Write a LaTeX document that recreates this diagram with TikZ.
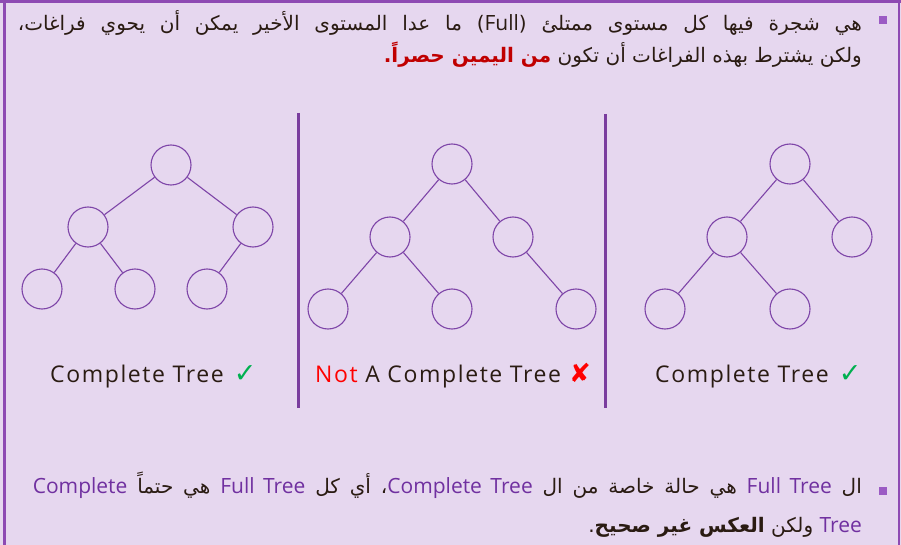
\documentclass[tikz,border=0pt]{standalone}
\usepackage{fontspec}
\setmainfont{Open Sans}
\newfontfamily\lblfont[LetterSpace=7]{Open Sans}
\newfontfamily\arabicfont[Script=Arabic]{DejaVu Sans}
\newfontfamily\arredbold[Script=Arabic,Color=C00000]{DejaVu Sans Bold}
\newfontfamily\symfont{DejaVu Sans}
\TeXXeTstate=1
\definecolor{bgc}{HTML}{E6D7EF}
\definecolor{framec}{HTML}{8E4AB3}
\definecolor{treec}{HTML}{7E45A8}
\definecolor{divc}{HTML}{7A3C9E}
\definecolor{bulc}{HTML}{9B5BC4}
\definecolor{txtc}{HTML}{2A1B12}
\definecolor{purc}{HTML}{7030A0}
\definecolor{okc}{HTML}{00B050}
\definecolor{badc}{HTML}{FF0000}
\newcommand{\lat}[1]{\beginL{\rmfamily\fontsize{21}{24}\selectfont #1}\endL}
\newcommand{\platin}[1]{\beginL{\rmfamily\fontsize{21}{24}\selectfont\color{purc}#1}\endL}
\tikzset{
  tn/.style={circle,draw=treec,line width=1.1pt,minimum size=40pt,inner sep=0pt},
  te/.style={draw=treec,line width=1.1pt},
  divline/.style={draw=divc,line width=3pt},
  lbl/.style={anchor=base west,inner sep=0pt,text=txtc,font=\fontsize{23}{26}\selectfont\lblfont},
  artext/.style={anchor=base east,inner sep=0pt,text=txtc,font=\fontsize{20}{24}\selectfont\arabicfont},
  bullet/.style={fill=bulc,minimum size=8pt,inner sep=0pt,draw=none}
}
\begin{document}
\begin{tikzpicture}[x=1pt,y=-1pt]
\useasboundingbox (0,0) rectangle (901,545);
\fill[bgc] (0,0) rectangle (901,545);
\fill[framec] (0,0) rectangle (901,3);
\fill[framec] (3,0) rectangle (6,545);
\fill[framec] (898,0) rectangle (899.5,545);

% bullets
\node[bullet] (b1) at (883,20) {};
\node[bullet] (b2) at (883,491) {};

% top text
\node[artext] (t1) at (862,31) {\hbox to 844pt{\beginR هي شجرة فيها كل مستوى ممتلئ (\lat{Full}) ما عدا المستوى الأخير يمكن أن يحوي فراغات،\endR}};
\node[artext] (t2) at (862,63) {\beginR ولكن يشترط بهذه الفراغات أن تكون {\arredbold من اليمين حصراً.}\endR};

% dividers
\coordinate (d1a) at (298,113); \coordinate (d1b) at (298,408);
\coordinate (d2a) at (605,114); \coordinate (d2b) at (605,408);
\draw[divline] (d1a) -- (d1b);
\draw[divline] (d2a) -- (d2b);

% tree 1
\node[tn] (a1) at (171,165) {};
\node[tn] (a2) at (88,227) {};
\node[tn] (a3) at (253,227) {};
\node[tn] (a4) at (42,289) {};
\node[tn] (a5) at (135,289) {};
\node[tn] (a6) at (207,289) {};
\draw[te] (a1) -- (a2); \draw[te] (a1) -- (a3);
\draw[te] (a2) -- (a4); \draw[te] (a2) -- (a5);
\draw[te] (a3) -- (a6);

% tree 2
\node[tn] (m1) at (452,164) {};
\node[tn] (m2) at (390,237) {};
\node[tn] (m3) at (513,237) {};
\node[tn] (m4) at (328,309) {};
\node[tn] (m5) at (452,309) {};
\node[tn] (m6) at (576,309) {};
\draw[te] (m1) -- (m2); \draw[te] (m1) -- (m3);
\draw[te] (m2) -- (m4); \draw[te] (m2) -- (m5);
\draw[te] (m3) -- (m6);

% tree 3
\node[tn] (r1) at (790,164) {};
\node[tn] (r2) at (727,237) {};
\node[tn] (r3) at (852,237) {};
\node[tn] (r4) at (665,309) {};
\node[tn] (r5) at (790,309) {};
\draw[te] (r1) -- (r2); \draw[te] (r1) -- (r3);
\draw[te] (r2) -- (r4); \draw[te] (r2) -- (r5);

% labels
\node[lbl] (l1) at (50,382) {Complete Tree\hspace{10pt}\textcolor{okc}{\fontsize{27}{27}\selectfont\symfont ✓}};
\node[lbl] (l2) at (315,382) {\textcolor{badc}{Not} A Complete Tree\hspace{8pt}\textcolor{badc}{\fontsize{26}{26}\selectfont\symfont ✘}};
\node[lbl] (l3) at (655,382) {Complete Tree\hspace{10pt}\textcolor{okc}{\fontsize{27}{27}\selectfont\symfont ✓}};

% bottom text
\node[artext] (t3) at (862,493) {\hbox to 829pt{\beginR ال \platin{Full Tree} هي حالة خاصة من ال \platin{Complete Tree}، أي كل \platin{Full Tree} هي حتماً \platin{Complete}\endR}};
\node[artext] (t4) at (862,532) {\beginR\platin{Tree} ولكن {\bfseries العكس غير صحيح}.\endR};
\end{tikzpicture}
\end{document}
